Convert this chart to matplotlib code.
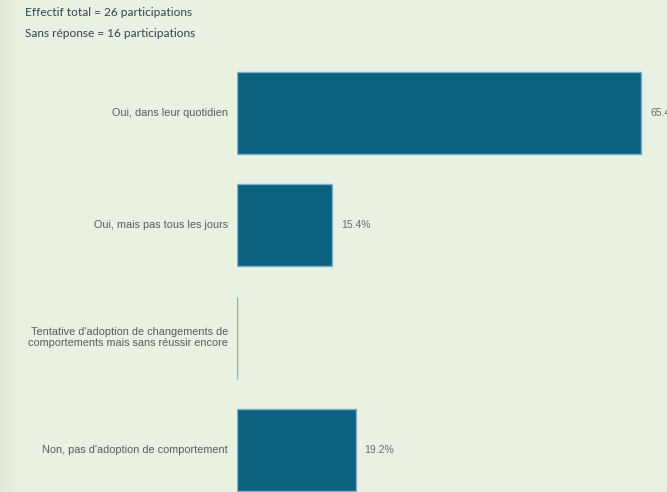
import matplotlib.pyplot as plt
import numpy as np

categories = [
    "Oui, dans leur quotidien",
    "Oui, mais pas tous les jours",
    "Tentative d'adoption de changements de\ncomportements mais sans réussir encore",
    "Non, pas d'adoption de comportement",
]
values = [65.4, 15.4, 0.0, 19.2]
labels = ["65.4%", "15.4%", "", "19.2%"]
header = ["Effectif total = 26 participations", "Sans réponse = 16 participations"]

bg = "#e8f1e2"
bar_color = "#0b6180"

fig = plt.figure(figsize=(6.67, 4.92), dpi=100, facecolor=bg)

# faint shading along the left edge
w = 30
grad = 1 - 0.035 * (1 - np.linspace(0, 1, w)) ** 2
gimg = np.ones((492, w, 3)) * np.array([232, 241, 226]) / 255
gimg = gimg * grad[None, :, None]
fig.figimage(gimg, xo=0, yo=0, zorder=0)

ax = fig.add_axes([237 / 667, 0, 430 / 667, 1])
ax.set_facecolor("none")
y = np.arange(len(categories))
ax.barh(y, values, height=0.73, color=bar_color, edgecolor="#7fb2c6", linewidth=1.0)
ax.set_xlim(0, 430 / 6.18)
ax.set_ylim(3.374, -1.006)
for s in ax.spines.values():
    s.set_visible(False)
ax.set_xticks([])
ax.set_yticks([])

for yi, v, lab in zip(y, values, labels):
    if lab:
        ax.annotate(lab, (v, yi), xytext=(6.5, 0), textcoords="offset points",
                    va="center", ha="left", fontsize=7.5, color="#6b6b6b",
                    family="Liberation Sans")

for yi, cat in zip(y, categories):
    fig.text(228 / 667, 1 - (113 + 112.33 * yi) / 492, cat, ha="right", va="center",
             fontsize=7.8, color="#5a5a5a", family="Liberation Sans", linespacing=1.1,
             multialignment="right")

fig.text(25 / 667, 1 - 12 / 492, header[0], ha="left", va="center",
         fontsize=8.6, color="#2e4652", family="Lato")
fig.text(25 / 667, 1 - 33 / 492, header[1], ha="left", va="center",
         fontsize=8.6, color="#2e4652", family="Lato")

fig.savefig("out.png", dpi=100, facecolor=bg)
